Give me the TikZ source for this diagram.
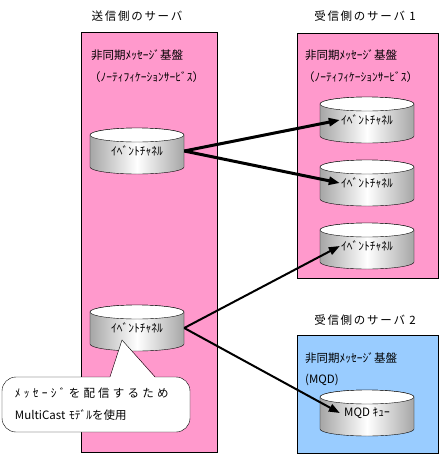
\documentclass[tikz,border=0pt]{standalone}
\usepackage{fontspec}
\setmainfont{Noto Sans CJK JP}
\usetikzlibrary{arrows.meta}

\definecolor{srvpink}{HTML}{FF99CC}
\definecolor{srvblue}{HTML}{99CCFF}

\tikzset{
	txt/.style={anchor=west, inner sep=0pt, font=\fontsize{11.5}{13}\selectfont},
	title/.style={inner sep=0pt, font=\fontsize{11.5}{13}\selectfont\addfontfeature{LetterSpace=15}},
	chanbody/.style={draw, left color=gray!70, right color=gray!70, middle color=white},
	chan/.style={minimum width=94pt, minimum height=46pt, inner sep=0pt, font=\fontsize{11.5}{13}\selectfont},
	flow/.style={-{Triangle[length=11pt,width=8pt]}, line width=#1},
	note/.style={draw, fill=white, rounded corners=14pt, minimum width=188pt, minimum height=55pt,
		text width=162pt, inner xsep=0pt, align=left, font=\fontsize{11.5}{22}\selectfont}
}

\begin{document}
\begin{tikzpicture}[x=1pt, y=-1pt]
		\useasboundingbox (0,0) rectangle (441,456);
	
		% servers
		\draw[fill=srvpink] (81,32) rectangle (217,452);
		\draw[fill=srvpink] (297,33) rectangle (438,278);
		\draw[fill=srvblue] (297,335) rectangle (438,453);
	
		\node[title] (sendt) at (137,16) {送信側のサーバ};
		\node[title] (recv1t) at (365,16) {受信側のサーバ 1};
		\node[title] (recv2t) at (365,320) {受信側のサーバ 2};
	
		\node[txt] (sendbase) at (91,55) {非同期ﾒｯｾｰｼﾞ基盤};
		\node[txt] (sendsvc) at (89,77) {（ﾉｰﾃｨﾌｨｹｰｼｮﾝｻｰﾋﾞｽ）};
		\node[txt] (recv1base) at (305,55) {非同期ﾒｯｾｰｼﾞ基盤};
		\node[txt] (recv1svc) at (303,77) {（ﾉｰﾃｨﾌｨｹｰｼｮﾝｻｰﾋﾞｽ）};
		\node[txt] (recv2base) at (305,358) {非同期ﾒｯｾｰｼﾞ基盤};
		\node[txt] (recv2svc) at (305,380) {(MQD)};
	
		% channels
		\foreach \n/\x/\y/\t in {l1/137/151/ｲﾍﾞﾝﾄﾁｬﾈﾙ, l2/137/328/ｲﾍﾞﾝﾄﾁｬﾈﾙ,
				r1/367/120/ｲﾍﾞﾝﾄﾁｬﾈﾙ, r2/367/183/ｲﾍﾞﾝﾄﾁｬﾈﾙ, r3/367/246/ｲﾍﾞﾝﾄﾁｬﾈﾙ,
				q/367/413/MQD ｷｭｰ} {
			\path[chanbody] (\x-47,\y-16) -- (\x-47,\y+16)
				arc[start angle=180, end angle=0, x radius=47, y radius=7]
				-- (\x+47,\y-16)
				arc[start angle=0, end angle=-180, x radius=47, y radius=7] -- cycle;
			\draw[fill=white] (\x,\y-16) ellipse[x radius=47, y radius=7];
			\node[chan] (\n) at (\x,\y) {\raisebox{-5pt}{\t}};
		}
	
		% multicast
		\draw[flow=3pt] (l1.east) -- ([xshift=20pt]r1.west);
		\draw[flow=3pt] (l1.east) -- ([xshift=20pt]r2.west);
		\draw[flow=2pt] (l2.east) -- ([xshift=20pt]r3.west);
		\draw[flow=2pt] (l2.east) -- ([xshift=20pt]q.west);
	
		% callout
		\node[note] (memo) at (96,404.5) {{\addfontfeature{LetterSpace=28}ﾒｯｾｰｼﾞを配信するため}\\MultiCast ﾓﾃﾞﾙを使用};
		\coordinate (tip) at ([xshift=-15pt, yshift=-12pt]l2.center);
		\fill[white] ([xshift=14pt, yshift=-1pt]memo.north) -- (tip) -- ([xshift=59pt, yshift=-1pt]memo.north) -- cycle;
		\draw ([xshift=14pt]memo.north) -- (tip) -- ([xshift=59pt]memo.north);
	\end{tikzpicture}
\end{document}
